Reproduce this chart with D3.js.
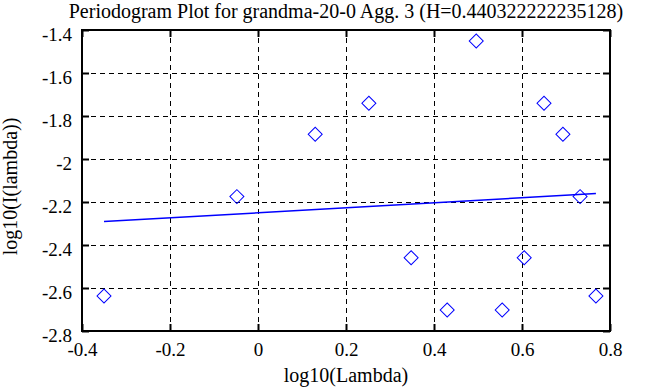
<!DOCTYPE html>
<html>
<head>
<meta charset="utf-8">
<script src="https://cdn.jsdelivr.net/npm/d3@7"></script>
<style>
  body { margin: 0; background: #fff; }
  text { font-family: "Liberation Serif", "Times New Roman", serif; font-size: 20px; fill: #000; }
</style>
</head>
<body>
<div class="wrapper"></div>
<script>
const WIDTH = 663
const HEIGHT = 387
const margin = {left: 82, right: 53, top: 30, bottom: 56}

// periodogram points, log10(lambda) vs log10(I(lambda))
var logLambda = [-0.35, -0.048, 0.13, 0.252, 0.348, 0.43, 0.496, 0.555, 0.605, 0.65, 0.693, 0.732, 0.768]
var logI = [-2.637, -2.175, -1.885, -1.741, -2.459, -2.702, -1.451, -2.702, -2.459, -1.741, -1.885, -2.175, -2.637]

// least squares fit line end points
var fitX = [-0.35, 0.768]
var fitY = [-2.291, -2.161]

var xTicks = [-0.4, -0.2, 0, 0.2, 0.4, 0.6, 0.8]
var yTicks = [-1.4, -1.6, -1.8, -2, -2.2, -2.4, -2.6, -2.8]

var title = "Periodogram Plot for grandma-20-0 Agg. 3 (H=0.440322222235128)"
var xLabel = "log10(Lambda)"
var yLabel = "log10(I(lambda))"

var svg = d3.select(".wrapper")
    .append("svg")
    .attr("width", WIDTH)
    .attr("height", HEIGHT)

var x = d3.scaleLinear([-0.4, 0.8], [margin.left, WIDTH - margin.right])
var y = d3.scaleLinear([-2.8, -1.4], [HEIGHT - margin.bottom, margin.top])

var innerW = WIDTH - margin.left - margin.right
var innerH = HEIGHT - margin.top - margin.bottom

// plain hyphen minus like the original
var fmt = d => String(d)

// dashed grid, inner ticks only
var gx = xTicks.slice(1, -1)
var gy = yTicks.slice(1, -1)

svg.append("g")
    .attr("transform", `translate(0,${HEIGHT - margin.bottom})`)
    .call(d3.axisBottom(x).tickValues(gx).tickSize(-innerH).tickFormat(""))
    .call(g => g.select(".domain").remove())
    .selectAll("line")
    .attr("stroke", "#000")
    .attr("stroke-dasharray", "5,4")

svg.append("g")
    .attr("transform", `translate(${margin.left},0)`)
    .call(d3.axisLeft(y).tickValues(gy).tickSize(-innerW).tickFormat(""))
    .call(g => g.select(".domain").remove())
    .selectAll("line")
    .attr("stroke", "#000")
    .attr("stroke-dasharray", "5,4")

// short solid ticks on all four sides, pointing inward
function styleTicks(g) {
    g.select(".domain").remove()
    g.attr("font-family", null).attr("font-size", null)
    g.selectAll("line").attr("stroke", "#000").attr("stroke-width", 2)
}

svg.append("g")
    .attr("transform", `translate(0,${HEIGHT - margin.bottom})`)
    .call(d3.axisBottom(x).tickValues(xTicks).tickSize(-7).tickFormat(fmt))
    .call(styleTicks)
    .selectAll("text")
    .attr("dy", "0")
    .attr("y", 25)

svg.append("g")
    .attr("transform", `translate(0,${margin.top})`)
    .call(d3.axisTop(x).tickValues(xTicks).tickSize(-7).tickFormat(""))
    .call(styleTicks)

svg.append("g")
    .attr("transform", `translate(${margin.left},0)`)
    .call(d3.axisLeft(y).tickValues(yTicks).tickSize(-7).tickFormat(fmt))
    .call(styleTicks)
    .selectAll("text")
    .attr("x", -10)
    .attr("dy", "0")
    .attr("y", 10)

svg.append("g")
    .attr("transform", `translate(${WIDTH - margin.right},0)`)
    .call(d3.axisRight(y).tickValues(yTicks).tickSize(-7).tickFormat(""))
    .call(styleTicks)

svg.selectAll(".tick text")
    .style("font-size", "19px")
    .attr("fill", "#000")

// frame
svg.append("rect")
    .attr("x", margin.left)
    .attr("y", margin.top)
    .attr("width", innerW)
    .attr("height", innerH)
    .attr("fill", "none")
    .attr("stroke", "#000")
    .attr("stroke-width", 2)

// fit line
var line = d3.line().x(d => x(d[0])).y(d => y(d[1]))
svg.append("path")
    .datum(d3.zip(fitX, fitY))
    .attr("d", line)
    .attr("fill", "none")
    .attr("stroke", "#0000ff")
    .attr("stroke-width", 1.5)

// diamonds
var sym = d3.symbol().type(d3.symbolSquare).size(98)
svg.append("g")
    .selectAll("path")
    .data(d3.zip(logLambda, logI))
    .join("path")
    .attr("d", sym)
    .attr("transform", d => `translate(${x(d[0])},${y(d[1])}) rotate(45)`)
    .attr("fill", "none")
    .attr("stroke", "#0000ff")
    .attr("stroke-width", 1)

// labels
svg.append("text")
    .attr("x", (margin.left + WIDTH - margin.right) / 2)
    .attr("y", 18)
    .attr("text-anchor", "middle")
    .text(title)

svg.append("text")
    .attr("x", (margin.left + WIDTH - margin.right) / 2)
    .attr("y", 382)
    .attr("text-anchor", "middle")
    .text(xLabel)

svg.append("text")
    .attr("transform", `translate(17,${(margin.top + HEIGHT - margin.bottom) / 2 + 6}) rotate(-90)`)
    .attr("text-anchor", "middle")
    .text(yLabel)
</script>
</body>
</html>
